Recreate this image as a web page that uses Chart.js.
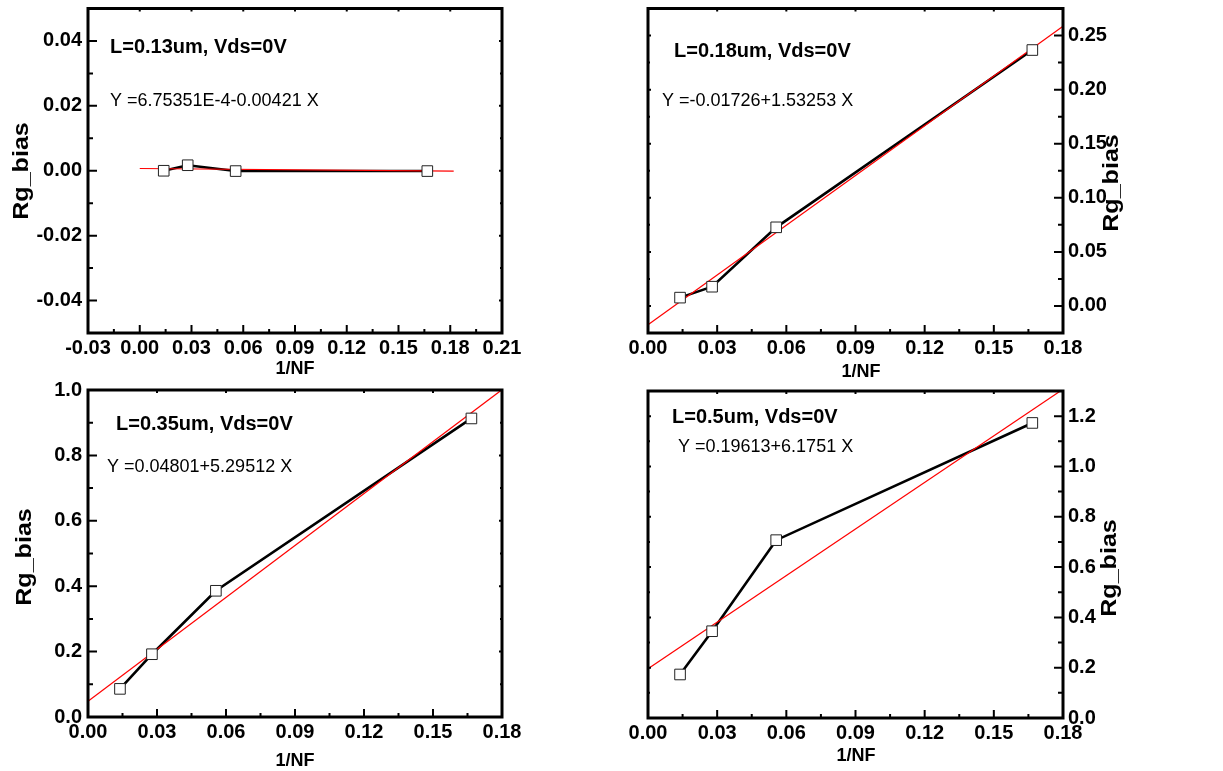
<!DOCTYPE html>
<html>
<head>
<meta charset="utf-8">
<script src="https://cdn.jsdelivr.net/npm/chart.js@4.4.0/dist/chart.umd.min.js"></script>
<style>
  html, body { margin: 0; padding: 0; background: #fff; }
  #wrap { position: relative; width: 1223px; height: 771px; overflow: hidden; background: #fff; }
  canvas { position: absolute; }
</style>
</head>
<body>
<div id="wrap">
  <canvas id="c1"></canvas>
  <canvas id="c2"></canvas>
  <canvas id="c3"></canvas>
  <canvas id="c4"></canvas>
</div>
<script>
// ---------- data ----------
const invNF = [0.0139, 0.0278, 0.0556, 0.1667];

const rg013 = [0.0000, 0.0017, -0.0001, -0.0001];
const rg018 = [0.0077, 0.0178, 0.0727, 0.2366];
const rg035 = [0.086, 0.192, 0.386, 0.913];
const rg050 = [0.173, 0.345, 0.707, 1.173];

// linear fit end points
const fitX013 = [0.0, 0.182];
const fitY013 = [0.0007, -0.0001];
const fitX018 = [0.0, 0.18];
const fitY018 = [-0.0173, 0.2586];
const fitX035 = [0.0, 0.18];
const fitY035 = [0.048, 1.001];
const fitX050 = [0.0, 0.18];
const fitY050 = [0.196, 1.307];

// tick labels
const xTicksWide = [-0.03, 0.00, 0.03, 0.06, 0.09, 0.12, 0.15, 0.18, 0.21];
const xTicks = [0.00, 0.03, 0.06, 0.09, 0.12, 0.15, 0.18];
const yTicks013 = [-0.04, -0.02, 0.00, 0.02, 0.04];
const yTicks018 = [0.00, 0.05, 0.10, 0.15, 0.20, 0.25];
const yTicks035 = [0.0, 0.2, 0.4, 0.6, 0.8, 1.0];
const yTicks050 = [0.0, 0.2, 0.4, 0.6, 0.8, 1.0, 1.2];

const labels = ["L=0.13um, Vds=0V", "L=0.18um, Vds=0V", "L=0.35um, Vds=0V", "L=0.5um, Vds=0V"];
const equations = ["Y =6.75351E-4-0.00421 X", "Y =-0.01726+1.53253 X", "Y =0.04801+5.29512 X", "Y =0.19613+6.1751 X"];

const FONT = "'Liberation Sans', Arial, Helvetica, sans-serif";

// minor ticks half way between majors
function minorTicks(major, min, max) {
  const out = [];
  const step = major[1] - major[0];
  const first = major[0] - step / 2;
  if (first > min + 1e-9) out.push(first);
  for (let i = 0; i < major.length - 1; i++) out.push((major[i] + major[i + 1]) / 2);
  const last = major[major.length - 1] + step / 2;
  if (last < max - 1e-9) out.push(last);
  return out;
}

function framePlugin(p) {
  return {
    id: "frame_" + p.id,
    afterDraw(chart) {
      const { ctx, chartArea: a, scales } = chart;
      const sx = scales.x, sy = scales.y;
      const right = p.yPos === "right";
      ctx.save();
      ctx.strokeStyle = "#000";
      ctx.lineWidth = 3;
      ctx.strokeRect(a.left, a.top, a.right - a.left, a.bottom - a.top);

      ctx.lineWidth = 2;
      ctx.beginPath();
      p.xTicks.forEach(v => {
        const px = sx.getPixelForValue(v);
        ctx.moveTo(px, a.bottom); ctx.lineTo(px, a.bottom - 8);
        ctx.moveTo(px, a.top); ctx.lineTo(px, a.top + 3);
      });
      minorTicks(p.xTicks, p.xMin, p.xMax).forEach(v => {
        const px = sx.getPixelForValue(v);
        ctx.moveTo(px, a.bottom); ctx.lineTo(px, a.bottom - 4);
      });
      const axX = right ? a.right : a.left;
      const opX = right ? a.left : a.right;
      const d = right ? -1 : 1;
      p.yTicks.forEach(v => {
        const py = sy.getPixelForValue(v);
        ctx.moveTo(axX, py); ctx.lineTo(axX + d * 9, py);
        ctx.moveTo(opX, py); ctx.lineTo(opX - d * 3, py);
      });
      minorTicks(p.yTicks, p.yMin, p.yMax).forEach(v => {
        const py = sy.getPixelForValue(v);
        ctx.moveTo(axX, py); ctx.lineTo(axX + d * 5, py);
        ctx.moveTo(opX, py); ctx.lineTo(opX - d * 2, py);
      });
      ctx.stroke();

      // texts (page coords -> canvas coords)
      const ox = p.box[0], oy = p.box[1];
      ctx.fillStyle = "#000";
      ctx.textBaseline = "alphabetic";
      ctx.textAlign = "left";
      ctx.font = "bold 20px " + FONT;
      ctx.fillText(p.label, p.labelPos[0] - ox, p.labelPos[1] - oy);
      ctx.font = "18px " + FONT;
      ctx.fillText(p.equation, p.eqPos[0] - ox, p.eqPos[1] - oy);

      ctx.textAlign = "center";
      ctx.font = "bold 18px " + FONT;
      ctx.fillText("1/NF", p.xTitle[0] - ox, p.xTitle[1] - oy);

      ctx.save();
      ctx.translate(p.yTitle[0] - ox, p.yTitle[1] - oy);
      ctx.rotate(-Math.PI / 2);
      ctx.scale(1.14, 1);
      ctx.textBaseline = "middle";
      ctx.font = "bold 22px " + FONT;
      ctx.fillText("Rg_bias", 0, 0);
      ctx.restore();
      ctx.restore();
    }
  };
}

function makePanel(p) {
  const cv = document.getElementById(p.id);
  const [cx, cy, cw, ch] = p.box;
  const [l, t, r, b] = p.area;
  const right = p.yPos === "right";
  cv.style.left = cx + "px";
  cv.style.top = cy + "px";
  cv.width = cw; cv.height = ch;
  cv.style.width = cw + "px"; cv.style.height = ch + "px";

  const pts = p.xs.map((x, i) => ({ x: x, y: p.ys[i] }));
  const fit = p.fitX.map((x, i) => ({ x: x, y: p.fitY[i] }));
  const tickFont = { family: FONT, size: 20, weight: "bold" };

  new Chart(cv, {
    type: "scatter",
    data: {
      datasets: [
        { data: pts, showLine: true, borderColor: "#000", borderWidth: 2.6, pointRadius: 0, order: 3 },
        { data: fit, showLine: true, borderColor: "#ff0000", borderWidth: 1.2, pointRadius: 0, order: 2 },
        { data: pts, showLine: false, pointStyle: "rect", pointRadius: 7.5, pointBorderWidth: 1,
          pointBorderColor: "#222", pointBackgroundColor: "#fff", order: 1 }
      ]
    },
    options: {
      responsive: false,
      animation: false,
      devicePixelRatio: 1,
      events: [],
      plugins: { legend: { display: false }, tooltip: { enabled: false } },
      layout: { padding: { top: t - cy, bottom: 0, left: right ? l - cx : 0, right: right ? 0 : cx + cw - r } },
      scales: {
        x: {
          type: "linear", min: p.xMin, max: p.xMax,
          grid: { display: false, drawTicks: false }, border: { display: false },
          afterFit: s => { s.height = cy + ch - b; s.paddingLeft = 0; s.paddingRight = 0; },
          afterBuildTicks: s => { s.ticks = p.xTicks.map(v => ({ value: v })); },
          ticks: { font: tickFont, color: "#000", padding: 3, maxRotation: 0, autoSkip: false,
                   callback: v => v.toFixed(2) }
        },
        y: {
          type: "linear", position: p.yPos, min: p.yMin, max: p.yMax,
          grid: { display: false, drawTicks: false }, border: { display: false },
          afterFit: s => { s.width = right ? cx + cw - r : l - cx; s.paddingTop = 0; s.paddingBottom = 0; },
          afterBuildTicks: s => { s.ticks = p.yTicks.map(v => ({ value: v })); },
          ticks: { font: tickFont, color: "#000", padding: right ? 5 : 6, autoSkip: false,
                   callback: v => v.toFixed(p.yDec) }
        }
      }
    },
    plugins: [framePlugin(p)]
  });
}

makePanel({
  id: "c1", box: [0, 0, 611, 385], area: [88, 5, 502, 333], yPos: "left",
  xMin: -0.03, xMax: 0.21, yMin: -0.05, yMax: 0.05,
  xTicks: xTicksWide, yTicks: yTicks013, yDec: 2,
  xs: invNF, ys: rg013, fitX: fitX013, fitY: fitY013,
  label: labels[0], labelPos: [110, 53], equation: equations[0], eqPos: [110, 106],
  xTitle: [295, 374], yTitle: [22, 171]
});
makePanel({
  id: "c2", box: [611, 0, 612, 385], area: [648, 7, 1063, 333], yPos: "right",
  xMin: 0, xMax: 0.18, yMin: -0.025, yMax: 0.275,
  xTicks: xTicks, yTicks: yTicks018, yDec: 2,
  xs: invNF, ys: rg018, fitX: fitX018, fitY: fitY018,
  label: labels[1], labelPos: [674, 57], equation: equations[1], eqPos: [662, 106],
  xTitle: [861, 377], yTitle: [1112, 183]
});
makePanel({
  id: "c3", box: [0, 378, 611, 393], area: [88, 390, 502, 717], yPos: "left",
  xMin: 0, xMax: 0.18, yMin: 0, yMax: 1.0,
  xTicks: xTicks, yTicks: yTicks035, yDec: 1,
  xs: invNF, ys: rg035, fitX: fitX035, fitY: fitY035,
  label: labels[2], labelPos: [116, 430], equation: equations[2], eqPos: [107, 472],
  xTitle: [295, 766], yTitle: [25, 557]
});
makePanel({
  id: "c4", box: [611, 378, 612, 393], area: [648, 391, 1063, 718], yPos: "right",
  xMin: 0, xMax: 0.18, yMin: 0, yMax: 1.3,
  xTicks: xTicks, yTicks: yTicks050, yDec: 1,
  xs: invNF, ys: rg050, fitX: fitX050, fitY: fitY050,
  label: labels[3], labelPos: [672, 423], equation: equations[3], eqPos: [678, 452],
  xTitle: [856, 761], yTitle: [1110, 568]
});
</script>
</body>
</html>
